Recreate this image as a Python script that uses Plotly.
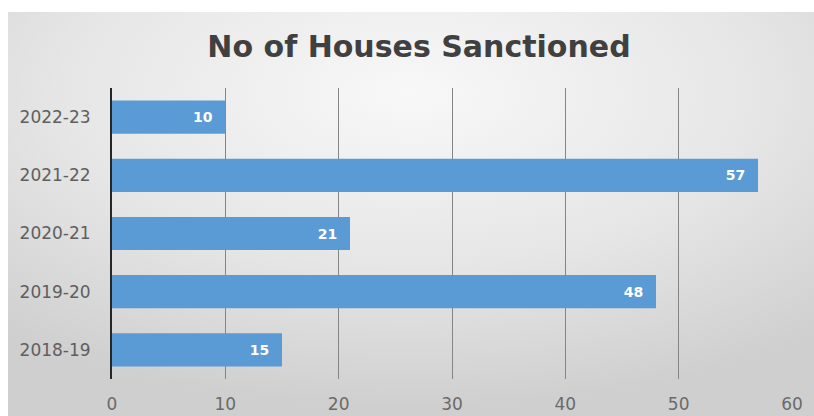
import base64
import plotly.graph_objects as go

# Houses sanctioned per financial year
years = ["2018-19", "2019-20", "2020-21", "2021-22", "2022-23"]
houses = [15, 48, 21, 57, 10]
x_ticks = [0, 10, 20, 30, 40, 50, 60]

# soft radial-gradient panel behind the chart
svg = (
    '<svg xmlns="http://www.w3.org/2000/svg" width="806" height="404" '
    'viewBox="0 0 806 404" preserveAspectRatio="none">'
    '<defs><radialGradient id="g" cx="50%" cy="20%" r="78%">'
    '<stop offset="0%" stop-color="#f8f8f8"/>'
    '<stop offset="55%" stop-color="#e6e6e6"/>'
    '<stop offset="100%" stop-color="#cfcfcf"/>'
    '</radialGradient></defs>'
    '<rect width="806" height="404" fill="url(#g)"/></svg>'
)
bg_src = "data:image/svg+xml;base64," + base64.b64encode(svg.encode()).decode()

L, R, T, B = 112, 22, 88, 37
W, H = 814, 416
pw, ph = W - L - R, H - T - B

fig = go.Figure(
    go.Bar(
        x=houses,
        y=years,
        orientation="h",
        marker=dict(color="#5B9BD5", line=dict(width=0)),
        text=houses,
        texttemplate="%{x}\u00a0\u00a0",
        textposition="inside",
        insidetextanchor="end",
        textfont=dict(family="DejaVu Sans", size=14, color="white", weight="bold"),
        cliponaxis=False,
    )
)

fig.update_layout(
    width=W,
    height=H,
    margin=dict(l=L, r=R, t=T, b=B, autoexpand=False),
    paper_bgcolor="white",
    plot_bgcolor="rgba(0,0,0,0)",
    bargap=0.43,
    showlegend=False,
    title=dict(
        text="No of Houses Sanctioned",
        x=419 / W,
        xref="container",
        xanchor="center",
        y=1 - 46 / H,
        yanchor="middle",
        font=dict(family="DejaVu Sans", size=30, color="#404040", weight="bold"),
    ),
    images=[
        dict(
            source=bg_src,
            xref="paper",
            yref="paper",
            x=(8 - L) / pw,
            y=(H - B - 12) / ph,
            sizex=(W - 8) / pw,
            sizey=(H - 12) / ph,
            xanchor="left",
            yanchor="top",
            sizing="stretch",
            layer="below",
        )
    ],
)

fig.update_xaxes(
    range=[0, 60],
    tickvals=x_ticks,
    automargin=False,
    showgrid=True,
    gridcolor="#858585",
    gridwidth=1,
    zeroline=False,
    showline=False,
    ticks="outside",
    ticklen=10,
    tickcolor="rgba(0,0,0,0)",
    tickfont=dict(family="DejaVu Sans", size=17, color="#6a6a6a"),
)

fig.update_yaxes(
    categoryorder="array",
    categoryarray=years,
    automargin=False,
    showgrid=False,
    zeroline=False,
    showline=True,
    linecolor="#262626",
    linewidth=2,
    ticks="outside",
    ticklen=16,
    tickcolor="rgba(0,0,0,0)",
    tickfont=dict(family="DejaVu Sans", size=17, color="#5f5f5f"),
)

fig.write_html("out.html")
